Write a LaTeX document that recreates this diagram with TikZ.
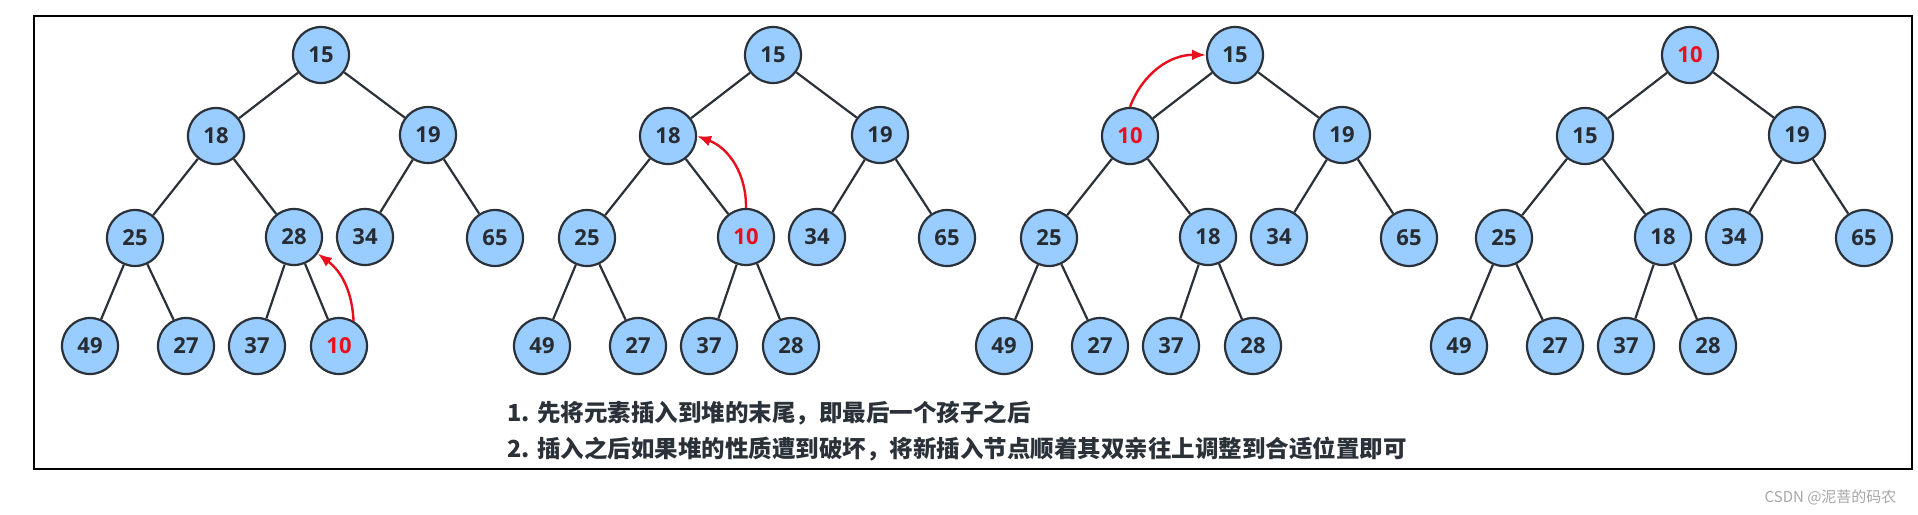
\documentclass[tikz,border=0pt]{standalone}
\usepackage{fontspec}
\usetikzlibrary{arrows.meta}
\setmainfont{Open Sans}
\newfontfamily\cjk{Noto Sans CJK SC}
\definecolor{nodefill}{HTML}{99CCFF}
\definecolor{edge}{HTML}{2B3138}
\definecolor{hl}{HTML}{E8101E}
\begin{document}
\begin{tikzpicture}[x=1pt,y=-1pt,
  hnode/.style={circle,draw=edge,line width=2.2pt,fill=nodefill,minimum size=56pt,inner sep=0pt,font=\fontsize{22}{22}\selectfont\bfseries,text=edge!90!black},
  link/.style={draw=edge,line width=2.2pt},
  move/.style={draw=hl,line width=2.4pt,-{Latex[length=14pt,width=11pt]}}]
\useasboundingbox (0,0) rectangle (1918,514);
\draw[line width=1.3pt] (34,16) rectangle (1912,469);
\newcommand{\heaptree}[3]{%
  \foreach \lab [count=\i] in {#3} {
    \ifcase\i\or
      \def\px{321}\def\py{55}\or \def\px{216}\def\py{136}\or \def\px{428}\def\py{135}\or
      \def\px{135}\def\py{238}\or \def\px{294}\def\py{237}\or \def\px{365}\def\py{237}\or
      \def\px{495}\def\py{238}\or \def\px{90}\def\py{346}\or \def\px{186}\def\py{346}\or
      \def\px{257}\def\py{346}\or \def\px{339}\def\py{346}\fi
    \node[hnode] (#1\i) at (\px+#2,\py) {\lab};
  }
  \draw[link] (#11)--(#12) (#11)--(#13) (#12)--(#14) (#12)--(#15) (#13)--(#16) (#13)--(#17)
    (#14)--(#18) (#14)--(#19) (#15)--(#110) (#15)--(#111);
}
\heaptree{a}{0}{15,18,19,25,28,34,65,49,27,37,{\textcolor{hl}{10}}}
\heaptree{b}{452}{15,18,19,25,{\textcolor{hl}{10}},34,65,49,27,37,28}
\heaptree{c}{914}{15,{\textcolor{hl}{10}},19,25,18,34,65,49,27,37,28}
\heaptree{d}{1369}{{\textcolor{hl}{10}},15,19,25,18,34,65,49,27,37,28}
\draw[move] (a11.60) to[bend right=25] (a5.-35);
\draw[move] (b5.north) to[bend right=35] (b2.east);
\draw[move] (c2.north) to[bend left=35] (c1.west);
\node[anchor=west,align=left,font=\cjk\bfseries\fontsize{23.5}{36}\selectfont,text=edge] (txt) at (504,431)
 {1. 先将元素插入到堆的末尾，即最后一个孩子之后\\2. 插入之后如果堆的性质遭到破坏，将新插入节点顺着其双亲往上调整到合适位置即可};
\node[anchor=east,font=\cjk\fontsize{15}{15}\selectfont,text=gray!70] (wm) at (1900,497) {CSDN @泥菩的码农};
\end{tikzpicture}
\end{document}
